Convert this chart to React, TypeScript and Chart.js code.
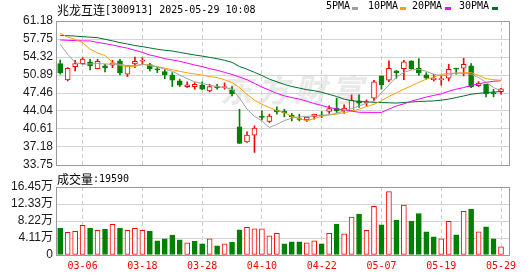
import React, { useEffect, useRef } from 'react';
import { Chart, registerables } from 'chart.js';

Chart.register(...registerables);

// ---------------- data ----------------
const dates = [
  '03-03', '03-04', '03-05', '03-06', '03-07', '03-10', '03-11', '03-12', '03-13', '03-14',
  '03-17', '03-18', '03-19', '03-20', '03-21', '03-24', '03-25', '03-26', '03-27', '03-28',
  '03-31', '04-01', '04-02', '04-03', '04-07', '04-08', '04-09', '04-10', '04-11', '04-14',
  '04-15', '04-16', '04-17', '04-18', '04-21', '04-22', '04-23', '04-24', '04-25', '04-28',
  '04-29', '04-30', '05-06', '05-07', '05-08', '05-09', '05-12', '05-13', '05-14', '05-15',
  '05-16', '05-19', '05-20', '05-21', '05-22', '05-23', '05-26', '05-27', '05-28', '05-29',
];
const xTickDates = ['03-06', '03-18', '03-28', '04-10', '04-22', '05-07', '05-19', '05-29'];

const openP = [
  53.06, 49.96, 52.49, 53.06, 53.38, 52.1, 52.62, 52.75, 53.57, 51.04,
  53.0, 53.51, 52.87, 52.05, 51.54, 50.85, 49.77, 48.69, 48.69, 48.94,
  47.87, 48.69, 48.5, 48.06, 41.02, 38.17, 39.43, 43.05, 42.03, 44.2,
  44.0, 43.24, 42.6, 42.35, 43.0, 43.3, 43.94, 44.57, 44.06, 44.06,
  45.96, 45.58, 46.47, 50.72, 49.9, 51.67, 52.12, 53.57, 52.18, 50.91,
  50.02, 50.02, 50.27, 52.18, 52.18, 52.62, 48.88, 49.13, 47.55, 47.74,
];
const highP = [
  53.76, 52.3, 53.7, 54.2, 53.89, 53.89, 52.94, 53.7, 53.89, 52.68,
  54.33, 54.2, 53.13, 52.43, 51.99, 51.35, 50.1, 49.58, 49.45, 49.58,
  49.13, 49.13, 49.39, 48.69, 44.38, 40.07, 41.21, 44.06, 43.43, 44.82,
  44.38, 43.56, 43.43, 42.92, 43.43, 43.94, 45.01, 46.47, 45.2, 47.1,
  47.1, 46.15, 49.9, 50.72, 53.57, 51.75, 53.7, 53.6, 54.02, 51.35,
  51.04, 50.72, 52.94, 52.2, 54.08, 53.06, 49.64, 49.15, 48.18, 48.37,
];
const lowP = [
  51.04, 49.77, 51.67, 52.94, 51.86, 52.05, 51.48, 52.3, 50.91, 50.59,
  52.3, 52.94, 51.67, 51.35, 50.21, 48.69, 48.69, 48.5, 48.18, 48.06,
  47.68, 48.18, 48.18, 46.92, 37.85, 38.04, 36.14, 42.35, 41.84, 43.43,
  42.92, 42.16, 42.16, 42.03, 42.48, 42.79, 43.56, 43.75, 43.56, 43.94,
  44.7, 45.0, 45.96, 48.18, 49.64, 50.27, 50.02, 51.99, 50.85, 50.09,
  49.77, 48.94, 49.77, 51.04, 50.72, 48.5, 48.69, 46.73, 46.73, 47.23,
];
const closeP = [
  51.35, 52.18, 53.06, 53.95, 52.62, 53.51, 52.3, 53.19, 51.35, 52.68,
  53.51, 53.7, 52.1, 51.85, 50.91, 49.9, 48.94, 49.0, 49.13, 48.18,
  48.69, 48.44, 48.69, 47.36, 37.85, 39.43, 40.77, 42.79, 43.05, 43.87,
  43.68, 42.98, 42.41, 42.86, 43.43, 43.11, 44.51, 44.06, 44.57, 46.09,
  45.52, 45.84, 49.58, 49.0, 52.18, 51.35, 53.38, 52.12, 51.35, 50.27,
  50.27, 50.21, 51.99, 51.99, 52.94, 48.69, 49.32, 47.36, 47.36, 48.25,
];

const ma5 = [
  56.74, 54.84, 53.26, 52.94, 53.0, 53.07, 53.0, 52.95, 52.94, 52.65,
  52.7, 52.94, 52.7, 52.43, 51.99, 51.6, 50.9, 50.2, 49.6, 49.26,
  48.95, 48.7, 48.5, 48.2, 46.5, 44.4, 43.0, 42.16, 40.89, 41.5,
  42.2, 42.7, 42.92, 43.0, 43.11, 43.2, 43.3, 43.6, 44.06, 44.5,
  45.0, 45.5, 45.96, 47.5, 49.0, 50.5, 51.4, 51.85, 51.99, 51.6,
  51.04, 50.75, 50.9, 51.3, 51.2, 51.04, 50.4, 49.5, 48.5, 47.87,
];
const ma10 = [
  58.83, 58.1, 57.7, 57.06, 55.8, 55.1, 54.6, 53.3, 52.7, 52.5,
  52.5, 52.9, 52.8, 52.5, 52.2, 51.9, 51.6, 51.3, 51.1, 50.9,
  50.6, 50.4, 50.0, 49.45, 48.5, 47.2, 46.1, 45.3, 44.7, 44.1,
  43.75, 43.0, 42.6, 42.16, 42.6, 43.05, 43.3, 43.43, 43.75, 44.0,
  44.38, 44.9, 45.3, 46.0, 46.8, 47.5, 48.2, 48.82, 49.5, 50.1,
  50.5, 51.0, 51.2, 51.25, 51.3, 51.35, 50.8, 50.2, 50.0, 49.9,
];
const ma20 = [
  57.57, 57.5, 57.45, 57.4, 57.38, 57.1, 56.87, 56.6, 56.3, 56.0,
  55.6, 55.2, 54.7, 54.4, 54.0, 53.76, 53.5, 53.15, 52.8, 52.5,
  52.1, 51.8, 51.4, 51.0, 50.5, 50.0, 49.3, 48.6, 48.0, 47.4,
  46.92, 46.6, 46.3, 45.9, 45.46, 45.1, 44.7, 44.45, 44.2, 44.0,
  43.8, 43.77, 43.77, 43.77, 44.4, 45.0, 45.4, 45.9, 46.3, 46.7,
  47.0, 47.3, 47.8, 48.2, 48.5, 48.9, 49.2, 49.5, 49.7, 49.8,
];
const ma30 = [
  58.45, 58.38, 58.3, 58.2, 58.1, 58.0, 57.7, 57.4, 57.06, 56.8,
  56.5, 56.3, 56.05, 55.8, 55.6, 55.47, 55.2, 54.95, 54.7, 54.5,
  54.25, 54.0, 53.7, 53.3, 52.5, 52.0, 51.4, 50.8, 50.1, 49.6,
  49.1, 48.7, 48.4, 48.1, 47.9, 47.6, 47.2, 46.8, 46.3, 46.0,
  45.85, 45.75, 45.7, 45.65, 45.6, 45.55, 45.65, 45.75, 45.84, 45.9,
  45.96, 46.1, 46.3, 46.6, 46.9, 47.23, 47.4, 47.55, 47.65, 47.74,
];

// volume in 万 (10k lots)
const volume = [
  6.47, 5.51, 5.75, 7.19, 6.47, 5.99, 6.23, 7.43, 6.47, 5.99,
  6.47, 5.99, 5.75, 3.44, 3.92, 4.83, 3.68, 2.96, 3.28, 2.72,
  3.92, 2.24, 2.72, 3.04, 6.07, 6.71, 6.31, 6.31, 4.63, 5.27,
  2.72, 3.2, 3.2, 2.96, 3.44, 2.72, 5.27, 7.51, 5.11, 9.2,
  9.9, 5.99, 11.75, 7.27, 15.34, 8.47, 12.06, 8.23, 9.99, 5.59,
  4.39, 3.92, 8.15, 4.87, 10.55, 11.1, 5.59, 6.79, 3.92, 1.959,
];
// 1 = red (up) volume bar, 0 = green
const volUp = [
  0, 1, 1, 1, 0, 1, 0, 1, 0, 1,
  1, 1, 0, 0, 0, 0, 0, 1, 0, 0,
  1, 0, 1, 0, 0, 1, 1, 1, 1, 1,
  0, 0, 0, 1, 1, 0, 1, 0, 1, 1,
  0, 1, 1, 0, 1, 0, 1, 0, 0, 0,
  0, 1, 1, 0, 1, 0, 1, 0, 0, 1,
];

const priceTicks = [33.75, 37.18, 40.61, 44.04, 47.46, 50.89, 54.32, 57.75, 61.18];
const priceTickLabels = ['33.75', '37.18', '40.61', '44.04', '47.46', '50.89', '54.32', '57.75', '61.18'];
const volTicks = [0, 4.11, 8.22, 12.33, 16.45];
const volTickLabels = ['0', '4.11万', '8.22万', '12.33万', '16.45万'];

const titleName = '兆龙互连';
const titleInfo = '[300913] 2025-05-29 10:08';
const volName = '成交量';
const volInfo = ':19590';
const watermarkText = '东方财富';
const legendLabels = ['5PMA', '10PMA', '20PMA', '30PMA'];

// ---------------- styles ----------------
const RED = '#ff0000';
const GREEN = '#008000';
const MA_COLORS = ['#a0a0a0', '#f5a300', '#ff00ff', '#006e2e'];
const FRAME = '#999999';
const GRID = '#d4d4d4';
const VGRID = '#cccccc';
const AXIS_FONT = "'Liberation Sans', 'Noto Sans CJK SC', sans-serif";
const MONO = "'DejaVu Sans Mono', monospace";
const CJK = "'Noto Sans CJK SC', sans-serif";
const LEGEND_TEXT_X = [326, 368, 412, 459];
const LEGEND_SWATCH_X = [352, 400, 445, 492];

const X_MIN = -0.562;
const X_MAX = 60.07;

const tickIndex = xTickDates.map((d) => dates.indexOf(d));

const align = (v: number) => Math.round(v - 0.5) + 0.5;
const framePlugin = {
  id: 'frame',
  beforeDatasetsDraw(chart: any) {
    const { ctx, chartArea: a } = chart;
    ctx.save();
    ctx.strokeStyle = FRAME;
    ctx.lineWidth = 1;
    const l = align(a.left), r = align(a.right), t = align(a.top), b = align(a.bottom);
    ctx.strokeRect(l, t, r - l, b - t);
    ctx.restore();
  },
};

function xScale(showLabels: boolean) {
  return {
    type: 'linear',
    min: X_MIN,
    max: X_MAX,
    offset: false,
    afterBuildTicks: (s: any) => {
      s.ticks = tickIndex.map((v) => ({ value: v }));
    },
    afterFit: (s: any) => {
      s.height = showLabels ? 21 : 0;
    },
    ticks: {
      display: showLabels,
      autoSkip: false,
      maxRotation: 0,
      padding: 5,
      color: RED,
      font: { family: MONO, size: 10 },
      callback: (_v: any, i: number) => xTickDates[i],
    },
    grid: { color: VGRID, drawTicks: false, lineWidth: 1, offset: false },
    border: { display: false, dash: [4, 3] },
  };
}

function yScale(min: number, max: number, ticks: number[], labels: string[]) {
  return {
    type: 'linear',
    min,
    max,
    afterBuildTicks: (s: any) => {
      s.ticks = ticks.map((v) => ({ value: v }));
    },
    afterFit: (s: any) => {
      s.width = 56;
    },
    ticks: {
      autoSkip: false,
      padding: 3,
      color: '#1a1a1a',
      font: { family: AXIS_FONT, size: 12 },
      callback: (_v: any, i: number) => labels[i],
    },
    grid: { color: GRID, drawTicks: false, lineWidth: 1 },
    border: { display: false },
  };
}

export default function App() {
  const priceRef = useRef<HTMLCanvasElement>(null);
  const volRef = useRef<HTMLCanvasElement>(null);

  useEffect(() => {
    const up = (i: number) => closeP[i] >= openP[i];
    const maSets = [ma5, ma10, ma20, ma30].map((arr, k) => ({
      type: 'line',
      label: legendLabels[k],
      data: arr.map((v, i) => ({ x: i, y: v })),
      borderColor: MA_COLORS[k],
      borderWidth: 1,
      pointRadius: 0,
      fill: false,
      tension: 0,
      order: 0,
    }));

    const priceChart = new Chart(priceRef.current as HTMLCanvasElement, {
      type: 'bar',
      data: {
        datasets: [
          {
            type: 'bar',
            label: 'wick',
            data: dates.map((_, i) => ({ x: i, y: [lowP[i], highP[i]] })),
            backgroundColor: dates.map((_, i) => (up(i) ? RED : GREEN)),
            borderWidth: 0,
            barThickness: 1,
            grouped: false,
            order: 2,
          },
          {
            type: 'bar',
            label: 'body',
            data: dates.map((_, i) => ({ x: i, y: [openP[i], closeP[i]] })),
            backgroundColor: dates.map((_, i) => (up(i) ? '#ffffff' : GREEN)),
            borderColor: dates.map((_, i) => (up(i) ? RED : GREEN)),
            borderWidth: 1,
            borderSkipped: false,
            barThickness: 5,
            grouped: false,
            order: 1,
          },
          ...maSets,
        ] as any,
      },
      options: {
        responsive: false,
        animation: false,
        devicePixelRatio: 1,
        events: [],
        layout: { padding: { top: 21, right: 21, bottom: 111, left: 0 } },
        plugins: { legend: { display: false }, tooltip: { enabled: false } },
        scales: {
          x: xScale(false),
          y: yScale(priceTicks[0], priceTicks[priceTicks.length - 1], priceTicks, priceTickLabels),
        } as any,
      },
      plugins: [framePlugin],
    } as any);

    const volChart = new Chart(volRef.current as HTMLCanvasElement, {
      type: 'bar',
      data: {
        datasets: [
          {
            label: 'volume',
            data: volume.map((v, i) => ({ x: i, y: v })),
            backgroundColor: volUp.map((u) => (u ? '#ffffff' : GREEN)),
            borderColor: volUp.map((u) => (u ? RED : GREEN)),
            borderWidth: 1,
            borderSkipped: false,
            barThickness: 5,
            grouped: false,
          },
        ] as any,
      },
      options: {
        responsive: false,
        animation: false,
        devicePixelRatio: 1,
        events: [],
        layout: { padding: { top: 187, right: 21, bottom: 0, left: 0 } },
        plugins: { legend: { display: false }, tooltip: { enabled: false } },
        scales: {
          x: xScale(true),
          y: yScale(volTicks[0], volTicks[volTicks.length - 1], volTicks, volTickLabels),
        } as any,
      },
      plugins: [framePlugin],
    } as any);

    return () => {
      priceChart.destroy();
      volChart.destroy();
    };
  }, []);

  const textBase: React.CSSProperties = {
    position: 'absolute',
    whiteSpace: 'nowrap',
    color: '#000',
    lineHeight: '16px',
    height: 16,
  };

  return (
    <div
      style={{
        position: 'fixed',
        left: 0,
        top: 0,
        width: 530,
        height: 276,
        background: '#ffffff',
        overflow: 'hidden',
      }}
    >
      <div
        style={{
          position: 'absolute',
          left: 220,
          top: 70,
          font: `italic bold 32px ${CJK}`,
          letterSpacing: '5px',
          color: '#e9e9e9',
          lineHeight: '36px',
          whiteSpace: 'nowrap',
        }}
      >
        {watermarkText}
      </div>
      <canvas ref={priceRef} width={530} height={276} style={{ position: 'absolute', left: 0, top: 0 }} />
      <canvas ref={volRef} width={530} height={276} style={{ position: 'absolute', left: 0, top: 0 }} />
      <div style={{ ...textBase, left: 57, top: 0 }}>
        <span style={{ font: `12px ${CJK}`, verticalAlign: 'middle' }}>{titleName}</span>
        <span style={{ font: `10px ${MONO}`, verticalAlign: 'middle' }}>{titleInfo}</span>
      </div>
      {legendLabels.map((lab, k) => (
        <React.Fragment key={lab}>
          <div style={{ ...textBase, left: LEGEND_TEXT_X[k], top: 0, font: `10px ${MONO}`, lineHeight: '17px' }}>{lab}</div>
          <div
            style={{
              position: 'absolute',
              left: LEGEND_SWATCH_X[k],
              top: 7,
              width: 6,
              height: 3,
              background: MA_COLORS[k],
            }}
          />
        </React.Fragment>
      ))}
      <div style={{ ...textBase, left: 57, top: 169 }}>
        <span style={{ font: `12px ${CJK}`, verticalAlign: 'middle' }}>{volName}</span>
        <span style={{ font: `10px ${MONO}`, verticalAlign: 'middle' }}>{volInfo}</span>
      </div>
    </div>
  );
}
